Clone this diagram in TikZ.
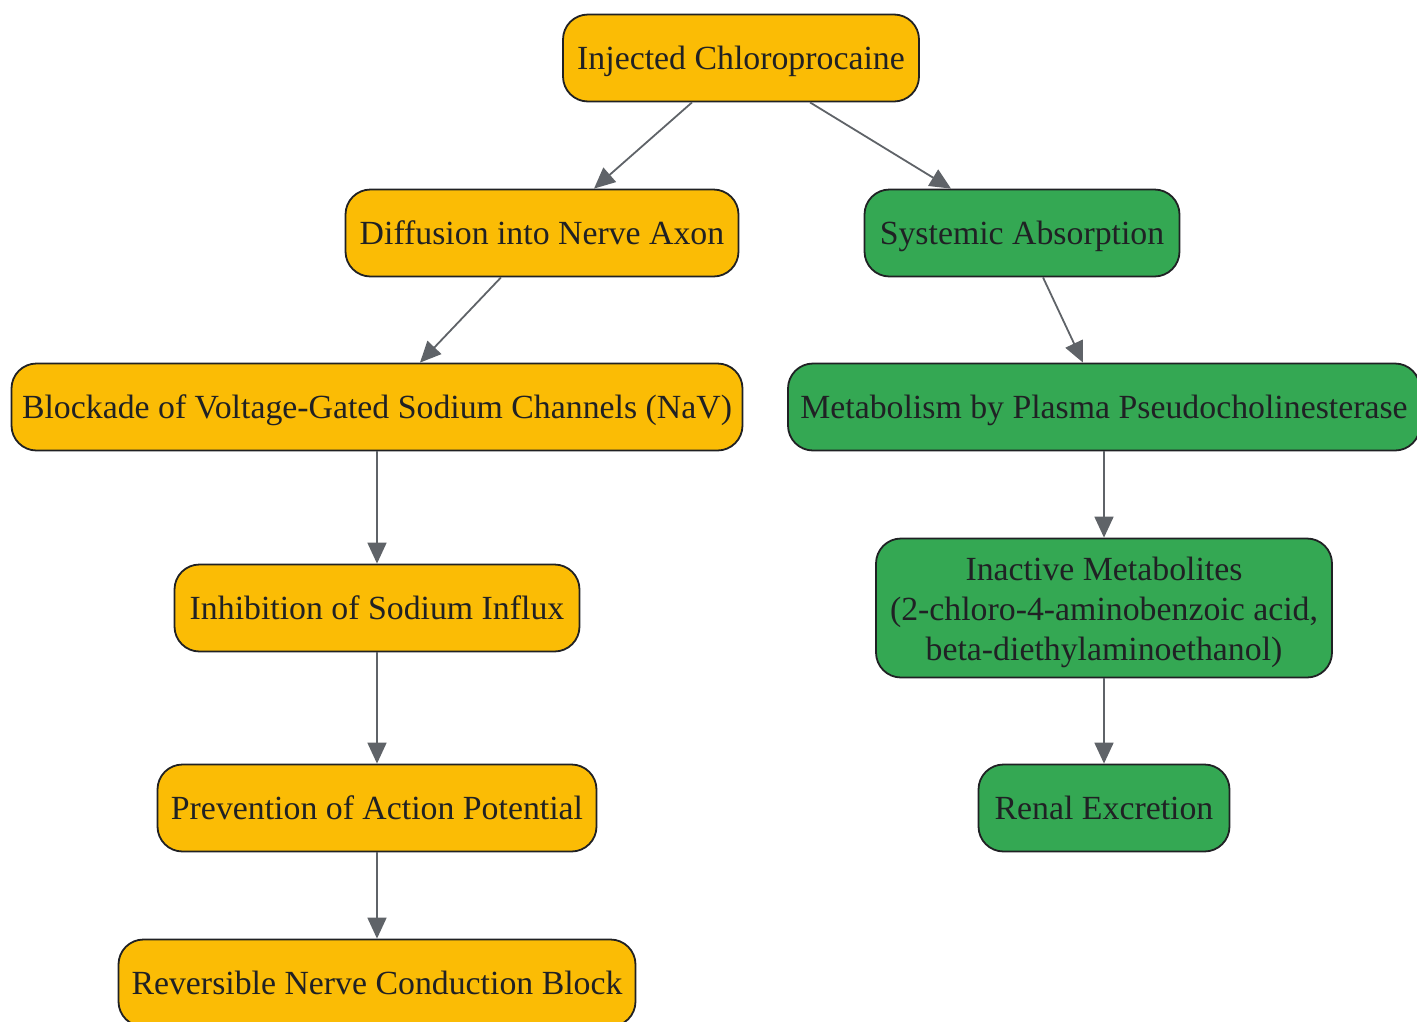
\documentclass[tikz,border=0pt]{standalone}
\usepackage{fontspec}
\setmainfont{Liberation Serif}
\usetikzlibrary{arrows.meta}
\definecolor{yel}{HTML}{FBBC05}
\definecolor{grn}{HTML}{34A853}
\definecolor{bdr}{HTML}{202124}
\definecolor{arr}{HTML}{5F6368}
\begin{document}
\begin{tikzpicture}[x=1pt,y=-1pt,
  box/.style={draw=bdr, line width=1.8pt, rounded corners=25pt, text=bdr,
    font=\fontsize{33.8}{40}\selectfont, align=center, inner sep=0pt, minimum height=87pt},
  onel/.style={text height=30.5pt, text depth=7.5pt},
  ybox/.style={box, onel, fill=yel},
  gbox/.style={box, onel, fill=grn},
  gmulti/.style={box, fill=grn},
  conn/.style={draw=arr, line width=1.8pt, -{Triangle[length=21pt,width=19pt]}}]
\useasboundingbox (0,0) rectangle (1417,1021);
\node[ybox, minimum width=356pt] (inj) at (741,58) {Injected Chloroprocaine};
\node[ybox, minimum width=393pt] (diff) at (542,233) {Diffusion into Nerve Axon};
\node[gbox, minimum width=315pt] (sys) at (1022,233) {Systemic Absorption};
\node[ybox, minimum width=731pt] (blk) at (377,407) {Blockade of Voltage-Gated Sodium Channels (NaV)};
\node[gbox, minimum width=632pt] (met) at (1104,407) {Metabolism by Plasma Pseudocholinesterase};
\node[ybox, minimum width=405pt] (inh) at (377,608) {Inhibition of Sodium Influx};
\node[gmulti, minimum width=456pt, minimum height=139pt] (ina) at (1104,608) {\rule{0pt}{31.5pt}Inactive Metabolites\\(2-chloro-4-aminobenzoic acid,\\beta-diethylaminoethanol)};
\node[ybox, minimum width=439pt] (prev) at (377,808) {Prevention of Action Potential};
\node[gbox, minimum width=251pt] (ren) at (1104,808) {Renal Excretion};
\node[ybox, minimum width=517pt] (rev) at (377,983) {Reversible Nerve Conduction Block};
\draw[conn] ([xshift=-49]inj.south) -- ([xshift=52]diff.north);
\draw[conn] ([xshift=69]inj.south) -- ([xshift=-71]sys.north);
\draw[conn] ([xshift=-41]diff.south) -- ([xshift=43]blk.north);
\draw[conn] ([xshift=21]sys.south) -- ([xshift=-21]met.north);
\draw[conn] (blk.south) -- (inh.north);
\draw[conn] (met.south) -- (ina.north);
\draw[conn] (inh.south) -- (prev.north);
\draw[conn] (ina.south) -- (ren.north);
\draw[conn] (prev.south) -- (rev.north);
\end{tikzpicture}
\end{document}
